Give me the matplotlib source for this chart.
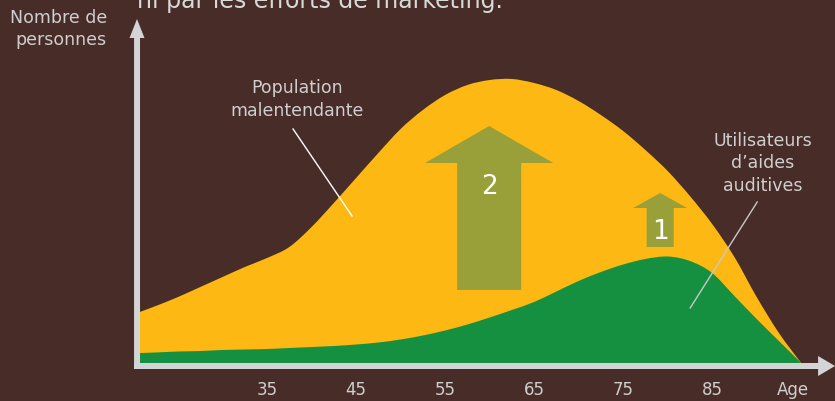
import matplotlib
matplotlib.use("Agg")
import matplotlib.pyplot as plt
from matplotlib.patches import Polygon, PathPatch
from matplotlib.path import Path

# ages, values in arbitrary "people" units
ages = [20.7, 22.5, 25, 27.5, 30, 32.5, 35, 37.5, 40, 42.5, 45, 47.5, 50, 52.5,
        55, 57.5, 60, 62.5, 65, 67.5, 70, 72.5, 75, 77.5, 80, 82.5, 85, 87.5,
        90, 92.5, 95]
malentendants = [51, 57, 66, 76, 86, 96, 105, 116, 136, 160, 185, 210, 234, 253,
                 268, 278, 283, 284, 280, 273, 262, 248, 232, 213, 192, 167, 139, 106,
                 66, 30, 0]
utilisateurs = [10, 10.5, 11.5, 12, 13, 13.5, 14, 15, 16, 17, 18.5, 20.5, 23.5, 27.5,
                32.5, 38.5, 45.5, 53, 61, 71.5, 82, 91, 98.5, 104, 106.5, 102, 90, 67,
                44, 22, 0]
tick_ages = [35, 45, 55, 65, 75, 85]
tick_labels = ["35", "45", "55", "65", "75", "85"]

bg = "#482c28"
yellow = "#fdb813"
green = "#159040"
olive = "#99a03a"
axis_col = "#d3d4d6"
txt_col = "#cfcfcf"


def smooth_area(xs, ys, color, z):
    # closed area under a smoothed curve (bezier segments through the points)
    pts = list(zip(xs, ys))
    verts = [pts[0]]
    codes = [Path.MOVETO]
    n = len(pts)
    for i in range(n - 1):
        p0 = pts[max(i - 1, 0)]
        p1 = pts[i]
        p2 = pts[i + 1]
        p3 = pts[min(i + 2, n - 1)]
        c1 = (p1[0] + (p2[0] - p0[0]) / 6, p1[1] + (p2[1] - p0[1]) / 6)
        c2 = (p2[0] - (p3[0] - p1[0]) / 6, p2[1] - (p3[1] - p1[1]) / 6)
        verts += [c1, c2, p2]
        codes += [Path.CURVE4] * 3
    verts += [(xs[-1], 0), (xs[0], 0), pts[0]]
    codes += [Path.LINETO, Path.LINETO, Path.CLOSEPOLY]
    ax.add_patch(PathPatch(Path(verts, codes), facecolor=color, lw=0, zorder=z))


fig = plt.figure(figsize=(8.35, 4.01), dpi=100, facecolor=bg)
ax = fig.add_axes([0, 0, 1, 1])
ax.set_facecolor(bg)
ax.set_xlim(5.0, 98.8)
ax.set_ylim(-38, 363)
ax.axis("off")

smooth_area(ages, malentendants, yellow, 2)
smooth_area(ages, utilisateurs, green, 3)

# axes drawn as arrows
ax.add_patch(Polygon([(20.06, -6), (20.06, 325), (19.55, 325), (20.39, 344),
                      (21.23, 325), (20.73, 325), (20.73, -6)],
                     closed=True, color=axis_col, lw=0, zorder=5))
ax.add_patch(Polygon([(20.06, 0), (96.9, 0), (96.9, 7), (98.8, -3),
                      (96.9, -13), (96.9, -6), (20.06, -6)],
                     closed=True, color=axis_col, lw=0, zorder=5))


# the two "growth" arrows
def up_arrow(cx, bottom, base, tip, shaft_hw, head_hw, label):
    ax.add_patch(Polygon([(cx - shaft_hw, bottom), (cx - shaft_hw, base),
                          (cx - head_hw, base), (cx, tip), (cx + head_hw, base),
                          (cx + shaft_hw, base), (cx + shaft_hw, bottom)],
                         closed=True, color=olive, lw=0, zorder=4))
    ax.text(cx, base - 24, label, color="white", fontsize=19,
            ha="center", va="center", zorder=6)


up_arrow(59.95, 73, 200, 237, 3.6, 7.2, "2")
up_arrow(79.16, 116, 155, 170, 1.52, 3.03, "1")

for a, lab in zip(tick_ages, tick_labels):
    ax.text(a, -27, lab, color=txt_col, fontsize=12, ha="center", va="center")
ax.text(94.1, -27, "Age", color=txt_col, fontsize=12, ha="center", va="center")

ax.text(17.0, 334, "Nombre de\npersonnes", color=txt_col, fontsize=12.5,
        ha="right", va="center", multialignment="right", linespacing=1.3)

ax.text(38.4, 263.5, "Population\nmalentendante", color=txt_col, fontsize=12.5,
        ha="center", va="center", linespacing=1.3)
ax.plot([37.92, 44.55], [234, 147], color="white", lw=1, zorder=6)

ax.text(90.7, 199.5, "Utilisateurs\nd\u2019aides\nauditives", color=txt_col,
        fontsize=12.5, ha="center", va="center", linespacing=1.3)
ax.plot([90.06, 82.53], [161, 55], color="#c8c8c8", lw=1, zorder=6)

# cut-off line of the slide title above the chart
ax.text(20.4, 355, "ni par les efforts de marketing.", color="#d9d9d9",
        fontsize=17, ha="left", va="baseline", clip_on=False)

fig.savefig("out.png", dpi=100, facecolor=bg)
